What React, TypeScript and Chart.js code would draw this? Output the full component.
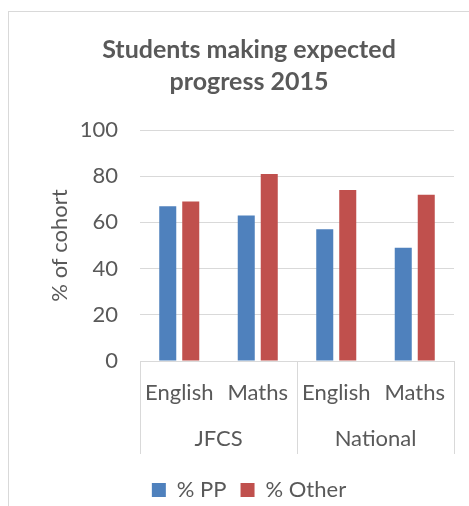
import React, { useEffect, useRef } from "react";
import { Chart, registerables } from "chart.js";

Chart.register(...registerables);

const categories = ["English", "Maths", "English", "Maths"];
const groups = ["JFCS", "National"];
const ppValues = [67, 63, 57, 49];
const otherValues = [69, 81, 74, 72];
const seriesNames = ["% PP", "% Other"];
const titleLines = ["Students making expected", "progress 2015"];
const yTitle = "% of cohort";
const yMin = 0;
const yMax = 100;
const yStep = 20;

const FONT = "Lato, 'Open Sans', sans-serif";
const TEXT = "#595959";
const GRID = "#D9D9D9";
const BLUE = "#4F81BD";
const RED = "#C0504D";
const FS = 22;

const groupPlugin = {
  id: "groupLabels",
  afterDraw(chart: any) {
    const { ctx, chartArea, scales } = chart;
    const x = scales.x;
    const bottom = chartArea.bottom;
    const lineEnd = bottom + 93;
    const per = categories.length / groups.length;
    const step = (x.right - x.left) / categories.length;
    ctx.save();
    ctx.strokeStyle = GRID;
    ctx.lineWidth = 1;
    for (let g = 0; g <= groups.length; g++) {
      const px = Math.round(x.left + g * per * step) + 0.5;
      ctx.beginPath();
      ctx.moveTo(px, bottom);
      ctx.lineTo(px, lineEnd);
      ctx.stroke();
    }
    ctx.fillStyle = TEXT;
    ctx.font = `${FS}px ${FONT}`;
    ctx.textAlign = "center";
    ctx.textBaseline = "middle";
    groups.forEach((name, g) => {
      const a = x.getPixelForValue(g * per);
      const b = x.getPixelForValue(g * per + per - 1);
      ctx.fillText(name, (a + b) / 2, bottom + 78);
    });
    ctx.restore();
  },
};

export default function App() {
  const ref = useRef<HTMLCanvasElement | null>(null);

  useEffect(() => {
    if (!ref.current) return;
    const chart = new Chart(ref.current, {
      type: "bar",
      data: {
        labels: categories,
        datasets: [
          {
            label: seriesNames[0],
            data: ppValues,
            backgroundColor: BLUE,
            barPercentage: 0.74,
            categoryPercentage: 0.586,
          },
          {
            label: seriesNames[1],
            data: otherValues,
            backgroundColor: RED,
            barPercentage: 0.74,
            categoryPercentage: 0.586,
          },
        ],
      },
      options: {
        animation: false,
        responsive: true,
        maintainAspectRatio: false,
        layout: { padding: 0 },
        plugins: {
          title: {
            display: true,
            text: titleLines,
            color: TEXT,
            font: { family: FONT, size: 25, weight: "bold", lineHeight: 1.28 },
            padding: { top: 22, bottom: 32 },
          },
          legend: {
            position: "bottom",
            labels: {
              color: TEXT,
              font: { family: FONT, size: FS },
              boxWidth: 14,
              boxHeight: 14,
              padding: 14,
            },
          },
          tooltip: { enabled: false },
        },
        scales: {
          x: {
            grid: { display: false, drawTicks: false },
            border: { display: true, color: GRID, width: 1 },
            ticks: {
              color: TEXT,
              font: { family: FONT, size: FS },
              padding: 19,
              maxRotation: 0,
            },
            afterFit: (scale: any) => {
              scale.height = 104;
            },
          },
          y: {
            min: yMin,
            max: yMax,
            ticks: {
              stepSize: yStep,
              color: TEXT,
              font: { family: FONT, size: FS },
              padding: 22,
            },
            grid: { color: GRID, lineWidth: 1, drawTicks: false },
            border: { display: false },
            title: {
              display: true,
              text: yTitle,
              color: TEXT,
              font: { family: FONT, size: FS },
              padding: { top: 38, bottom: 0 },
            },
            afterFit: (scale: any) => {
              scale.width = 131;
            },
          },
          yRight: {
            type: "linear",
            position: "right",
            display: true,
            grid: { display: false, drawTicks: false },
            border: { display: false },
            ticks: { display: false },
            afterFit: (scale: any) => {
              scale.width = 35;
            },
          },
        },
      },
      plugins: [groupPlugin],
    });
    return () => chart.destroy();
  }, []);

  return (
    <div
      style={{
        position: "fixed",
        left: 8,
        top: 11,
        width: 481,
        height: 500,
        borderLeft: `1px solid ${GRID}`,
        borderTop: `1px solid ${GRID}`,
        boxSizing: "border-box",
        background: "#fff",
      }}
    >
      <canvas ref={ref} />
    </div>
  );
}
